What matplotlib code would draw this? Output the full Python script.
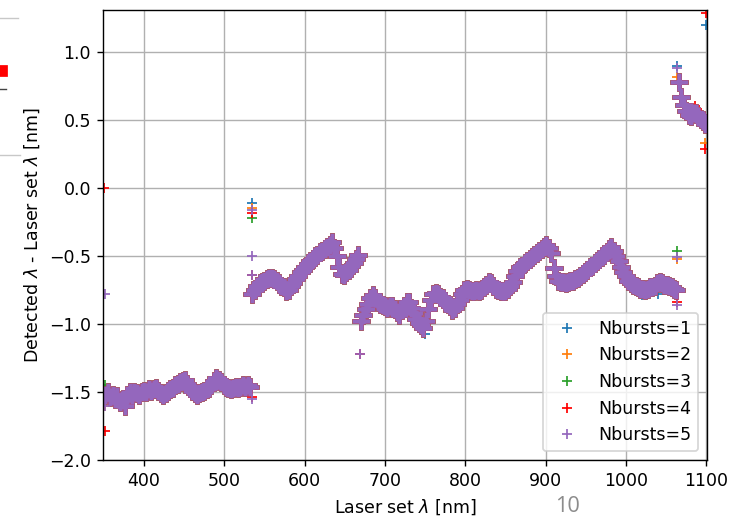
import numpy as np
import matplotlib.pyplot as plt
from matplotlib.lines import Line2D
from matplotlib.patches import Rectangle

# --- laser set wavelengths (3 nm steps, four scan segments) ---
wl_seg1 = np.arange(352, 533, 3)
wl_seg2 = np.arange(535, 668, 3)
wl_seg3 = np.arange(670, 1064, 3)
wl_seg4 = np.arange(1066, 1100, 3)

# --- detected - set offset, common to all Nbursts ---
d_seg1 = [-1.52, -1.50, -1.54, -1.52, -1.55, -1.53, -1.57, -1.56, -1.60, -1.52,
          -1.50, -1.52, -1.50, -1.51, -1.52, -1.50, -1.49, -1.50, -1.48, -1.49,
          -1.48, -1.47, -1.49, -1.51, -1.52, -1.51, -1.49, -1.48, -1.47, -1.45,
          -1.44, -1.43, -1.42, -1.41, -1.44, -1.47, -1.49, -1.51, -1.52, -1.51,
          -1.50, -1.49, -1.48, -1.47, -1.45, -1.42, -1.40, -1.41, -1.43, -1.45,
          -1.46, -1.47, -1.48, -1.47, -1.46, -1.47, -1.46, -1.45, -1.46, -1.45,
          -1.46]
d_seg2 = [-0.78, -0.75, -0.72, -0.70, -0.69, -0.68, -0.67, -0.66, -0.66, -0.67,
          -0.68, -0.70, -0.72, -0.73, -0.76, -0.75, -0.72, -0.70, -0.67, -0.65,
          -0.62, -0.60, -0.58, -0.56, -0.54, -0.52, -0.50, -0.49, -0.47, -0.46,
          -0.45, -0.43, -0.42, -0.40, -0.44, -0.50, -0.58, -0.63, -0.64, -0.62,
          -0.60, -0.57, -0.55, -0.52, -0.49]
d_seg3 = [-0.98, -0.93, -0.89, -0.85, -0.81, -0.79, -0.81, -0.84, -0.85, -0.86,
          -0.87, -0.88, -0.87, -0.87, -0.89, -0.91, -0.93, -0.90, -0.87, -0.84,
          -0.84, -0.88, -0.92, -0.96, -0.99, -1.01, -1.03, -0.98, -0.89, -0.82,
          -0.78, -0.77, -0.78, -0.80, -0.81, -0.83, -0.85, -0.87, -0.90, -0.88,
          -0.85, -0.82, -0.78, -0.75, -0.74, -0.75, -0.76, -0.76, -0.75, -0.76,
          -0.75, -0.73, -0.71, -0.69, -0.70, -0.72, -0.74, -0.75, -0.76, -0.76,
          -0.76, -0.74, -0.72, -0.69, -0.65, -0.61, -0.58, -0.57, -0.55, -0.54,
          -0.52, -0.51, -0.49, -0.48, -0.46, -0.45, -0.43, -0.42, -0.44, -0.48,
          -0.59, -0.65, -0.68, -0.69, -0.69, -0.70, -0.69, -0.68, -0.68, -0.67,
          -0.66, -0.65, -0.63, -0.62, -0.60, -0.58, -0.57, -0.55, -0.54, -0.52,
          -0.51, -0.49, -0.47, -0.45, -0.43, -0.46, -0.50, -0.54, -0.58, -0.62,
          -0.65, -0.68, -0.70, -0.71, -0.72, -0.73, -0.74, -0.74, -0.75, -0.74,
          -0.73, -0.73, -0.72, -0.70, -0.69, -0.70, -0.71, -0.71, -0.72, -0.73,
          -0.74, -0.75]
d_seg4 = [0.78, 0.67, 0.61, 0.57, 0.54, 0.53, 0.55, 0.55, 0.53, 0.51, 0.49, 0.47]

# --- points where single Nbursts settings stand out ---
extra_wl = {
    1: [352, 534, 750, 1020, 1040, 1064, 1099.6],
    2: [352, 534, 1064, 1064, 1099],
    3: [352, 534, 1064, 1097],
    4: [350.6, 352, 534, 534, 534, 669, 1064, 1082, 1086, 1090, 1094, 1098, 1099, 1099.6],
    5: [352, 352, 534, 534, 534, 534, 669, 1064, 1064, 1064],
}
extra_d = {
    1: [-1.53, -0.11, -1.07, -0.79, -0.78, 0.90, 1.20],
    2: [-1.60, -0.15, 0.82, -0.52, 0.33],
    3: [-1.45, -0.22, -0.46, 0.45],
    4: [0.0, -1.79, -0.18, -0.64, -1.54, -1.22, -0.84, 0.58, 0.60, 0.56, 0.55, 0.50, 0.29, 1.29],
    5: [-0.78, -1.60, -0.16, -0.50, -0.64, -1.55, -1.22, 0.88, -0.51, -0.86],
}

labels = ['Nbursts=1', 'Nbursts=2', 'Nbursts=3', 'Nbursts=4', 'Nbursts=5']
colors = ['tab:blue', 'tab:orange', 'tab:green', 'red', 'tab:purple']

wl_all = np.concatenate([wl_seg1, wl_seg2, wl_seg3, wl_seg4])
d_all = np.concatenate([d_seg1, d_seg2, d_seg3, d_seg4])

fig = plt.figure(figsize=(737 / 125, 518 / 125), dpi=125)
ax = fig.add_axes([0.1398, 0.112, 0.8195, 0.8688])

for n, (lab, col) in enumerate(zip(labels, colors), start=1):
    # dense scan band: heavier crosses so the overlapping points read as one band
    ax.plot(wl_all, d_all, '+', color=col, ms=10, mew=2.6)
    ax.plot(extra_wl[n], extra_d[n], '+', color=col, label=lab)

ax.set_xlim(349, 1101)
ax.set_ylim(-2.0, 1.31)
ax.grid(True)
ax.set_xlabel(r'Laser set $\lambda$ [nm]')
ax.set_ylabel(r'Detected $\lambda$ - Laser set $\lambda$ [nm]')
ax.legend(loc='lower right')

# slide leftovers: page number and bits of the neighbouring figure
fig.text(568 / 737, 1 - 496 / 518, '10', color='#8c8c8c', fontsize=12.5,
         family='Open Sans', ha='center', va='top')
for y, x1, c in [(18, 18, '#c8c8c8'), (89, 6, '#444444'), (155, 20, '#c8c8c8')]:
    fig.add_artist(Line2D([0, x1 / 737], [1 - y / 518] * 2, color=c, lw=0.8))
fig.add_artist(Rectangle((0, 1 - 76 / 518), 7 / 737, 10 / 518, color='red',
                         transform=fig.transFigure))

fig.savefig('out.png', dpi=125)
